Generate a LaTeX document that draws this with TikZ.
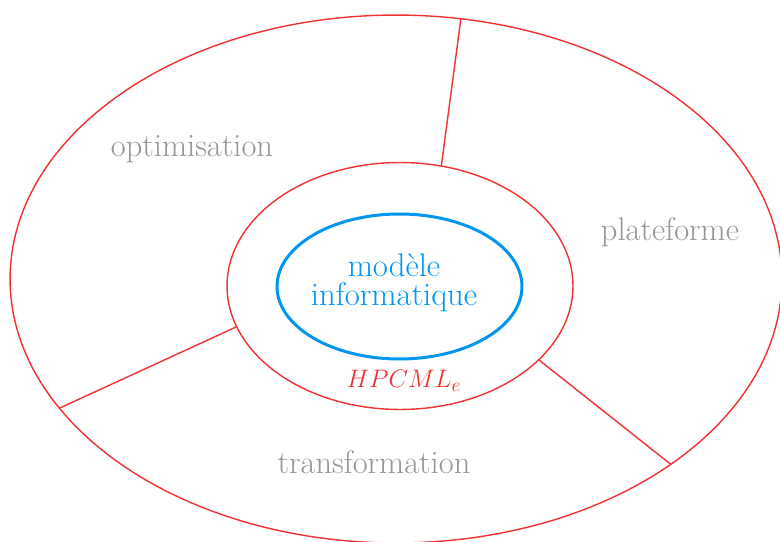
\documentclass[tikz,border=0pt]{standalone}
\usepackage{tikz}
\usetikzlibrary{shapes.geometric}
\definecolor{ringred}{RGB}{240,50,50}
\definecolor{coreblue}{RGB}{0,150,240}
\definecolor{labelgray}{RGB}{150,150,150}
\tikzset{
  ring/.style={draw=ringred, line width=0.8pt, ellipse, inner sep=0pt, outer sep=0pt},
  core/.style={draw=coreblue, line width=1.7pt, ellipse, inner sep=0pt, outer sep=0pt,
    text=coreblue, align=center, font=\fontsize{18.6}{16.8}\selectfont},
  sector/.style={text=labelgray, font=\fontsize{18.5}{20}\selectfont},
  divider/.style={draw=ringred, line width=0.8pt}
}
\begin{document}
\begin{tikzpicture}[x=0.02cm,y=0.02cm]
\useasboundingbox (0,0) rectangle (780,541);
\begin{scope}
\clip (0,0) rectangle (780,541);
\node[ring, minimum width=15.44cm, minimum height=10.56cm] (outer) at (396,262) {};
\node[ring, minimum width=6.92cm, minimum height=4.94cm] (middle) at (400,255) {};
\node[core, minimum width=4.9cm, minimum height=2.9cm] (core) at (399.5,254.5) {};
\node[text=coreblue, align=center, font=\fontsize{18.6}{16.8}\selectfont] (coretext) at (394,258) {mod\`ele\\informatique};
\draw[divider] (middle.71.3) -- (outer.76.2);
\draw[divider] (middle.194.3) -- (outer.201.6);
\draw[divider] (middle.332.3) -- (outer.326.1);
\node[sector] (optim) at (192,392) {optimisation};
\node[sector] (plat) at (670,309) {plateforme};
\node[sector] (transf) at (374,79) {transformation};
\node[text=ringred, font=\fontsize{15}{18}\selectfont] (hpc) at (404,160) {$HPCML_e$};
\end{scope}
\end{tikzpicture}
\end{document}
